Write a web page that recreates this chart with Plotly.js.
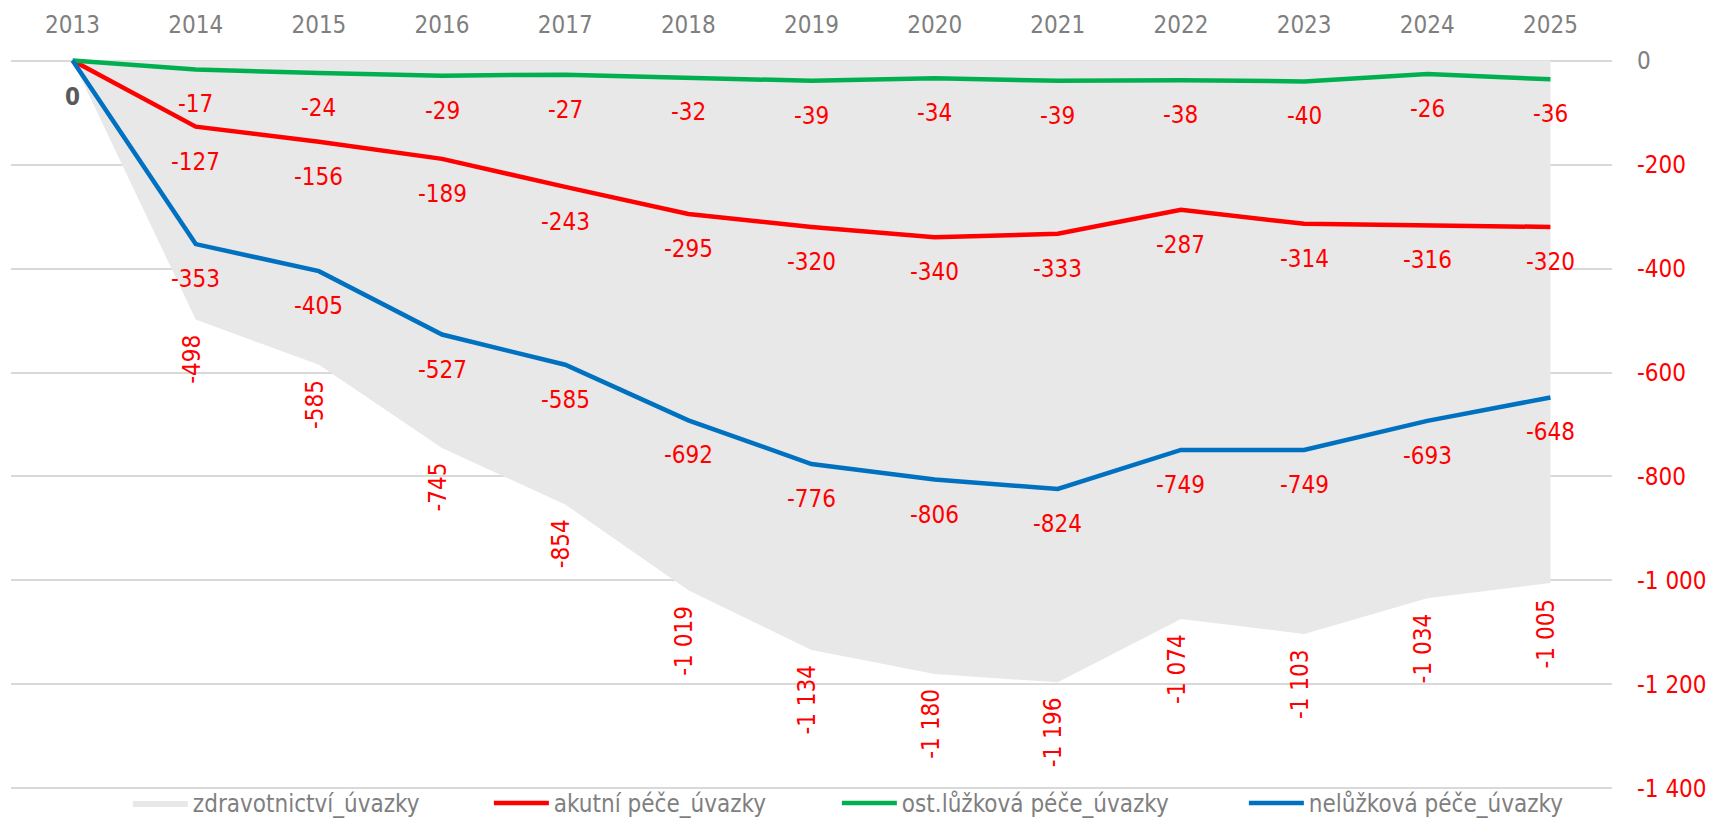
<!DOCTYPE html>
<html>
<head>
<meta charset="utf-8">
<script src="https://cdn.plot.ly/plotly-3.0.1.min.js"></script>
<style>
html,body{margin:0;padding:0;background:#fff;}
#chart{width:1714px;height:822px;}
</style>
</head>
<body>
<div id="chart"></div>
<script>
// ---- data ----
const years = ['2013','2014','2015','2016','2017','2018','2019','2020','2021','2022','2023','2024','2025'];
const zdravotnictvi = [0, -498, -585, -745, -854, -1019, -1134, -1180, -1196, -1074, -1103, -1034, -1005];
const akutni = [0, -127, -156, -189, -243, -295, -320, -340, -333, -287, -314, -316, -320];
const ostLuzkova = [0, -17, -24, -29, -27, -32, -39, -34, -39, -38, -40, -26, -36];
const neluzkova = [0, -353, -405, -527, -585, -692, -776, -806, -824, -749, -749, -693, -648];
const seriesNames = ['zdravotnictví_úvazky', 'akutní péče_úvazky', 'ost.lůžková péče_úvazky', 'nelůžková péče_úvazky'];
const yTickVals = [0, -200, -400, -600, -800, -1000, -1200, -1400];
const yTickText = ['0', '-200', '-400', '-600', '-800', '-1 000', '-1 200', '-1 400'];

// ---- style ----
const FONT = 'DejaVu Sans Condensed, DejaVu Sans, sans-serif';
const FS = 24;
const GRAY = '#7f7f7f';
const RED = '#ff0000';

function fmt(v) {
  const s = String(Math.abs(v)).replace(/\B(?=(\d{3})+(?!\d))/g, ' ');
  return (v < 0 ? '-' : '') + s;
}

const traces = [
  {x: years, y: zdravotnictvi, name: seriesNames[0], type: 'scatter', mode: 'lines',
   fill: 'tozeroy', fillcolor: '#e8e8e8', line: {width: 0, color: '#e8e8e8'}, legendwidth: 291},
  {x: years, y: akutni, name: seriesNames[1], type: 'scatter', mode: 'lines',
   line: {width: 4.5, color: '#ff0000'}, legendwidth: 278},
  {x: years, y: ostLuzkova, name: seriesNames[2], type: 'scatter', mode: 'lines',
   line: {width: 4.5, color: '#00b050'}, legendwidth: 337},
  {x: years, y: neluzkova, name: seriesNames[3], type: 'scatter', mode: 'lines',
   line: {width: 4.5, color: '#0070c0'}}
];

const annotations = [];
// horizontal labels below the line series
[akutni, ostLuzkova, neluzkova].forEach(function(arr, si) {
  arr.forEach(function(v, i) {
    if (i === 0) {
      if (si !== 0) return;
      annotations.push({x: i, y: v, xref: 'x', yref: 'y', text: '<b>' + fmt(v) + '</b>', showarrow: false,
        xanchor: 'center', yanchor: 'middle', yshift: -36,
        font: {family: FONT, size: FS, color: '#595959'}});
      return;
    }
    annotations.push({x: i, y: v, xref: 'x', yref: 'y', text: fmt(v), showarrow: false,
      xanchor: 'center', yanchor: 'middle', yshift: -35,
      font: {family: FONT, size: FS, color: RED}});
  });
});
// rotated labels below the area series
zdravotnictvi.forEach(function(v, i) {
  if (i === 0) return;
  annotations.push({x: i, y: v, xref: 'x', yref: 'y', text: fmt(v), showarrow: false,
    textangle: -90, xanchor: 'center', yanchor: 'top', yshift: -13, xshift: -4,
    font: {family: FONT, size: FS, color: RED}});
});

const layout = {
  width: 1714, height: 822,
  margin: {l: 11, r: 102, t: 58, b: 31, autoexpand: false},
  paper_bgcolor: '#ffffff', plot_bgcolor: '#ffffff',
  font: {family: FONT, size: FS, color: GRAY},
  showlegend: true,
  legend: {orientation: 'h', x: 0.073, xanchor: 'left', y: -0.017, yanchor: 'middle',
    font: {family: FONT, size: FS, color: GRAY}, itemwidth: 55, bgcolor: 'rgba(0,0,0,0)'},
  xaxis: {type: 'category', side: 'top', range: [-0.5, 12.5], showgrid: false, zeroline: false,
    showline: false, ticks: '', ticklabelstandoff: 19,
    tickfont: {family: FONT, size: FS, color: GRAY}},
  yaxis: {side: 'right', range: [-1405, 5], tickvals: yTickVals,
    ticktext: yTickText.map(function(t, i) { return i === 0 ? '<span style="color:#7f7f7f">' + t + '</span>' : t; }),
    showgrid: true, gridcolor: '#d9d9d9', gridwidth: 1.5, zeroline: false, showline: false,
    ticks: '', ticklabelstandoff: 24,
    tickfont: {family: FONT, size: FS, color: RED}},
  annotations: annotations
};

Plotly.newPlot('chart', traces, layout, {displayModeBar: false});
</script>
</body>
</html>
